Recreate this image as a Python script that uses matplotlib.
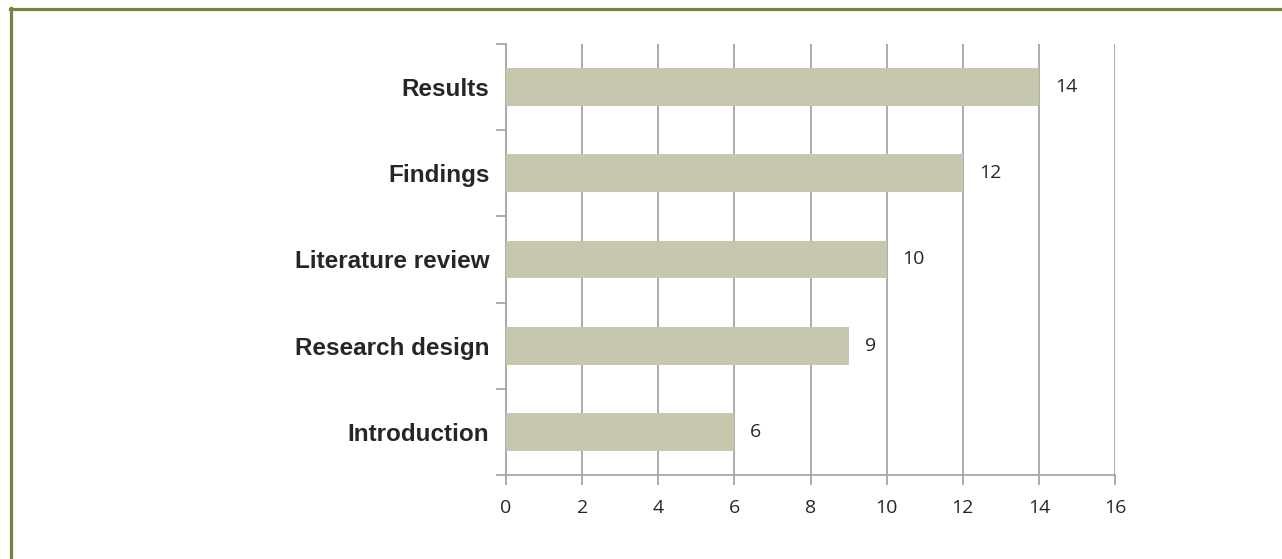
import matplotlib.pyplot as plt
from matplotlib.lines import Line2D
import numpy as np

categories = ['Introduction', 'Research design', 'Literature review', 'Findings', 'Results']
values = [6, 9, 10, 12, 14]
x_ticks = [0, 2, 4, 6, 8, 10, 12, 14, 16]

bar_color = '#c6c7ad'
grid_color = '#a6a6a6'
text_color = '#262626'

W, H = 1282, 559
fig = plt.figure(figsize=(W / 100, H / 100), dpi=100)
ax = fig.add_axes([506 / W, 1 - 475 / H, (1115 - 506) / W, (475 - 44) / H])

y = np.arange(len(categories))
ax.barh(y, values, height=0.44, color=bar_color, zorder=3)

ax.set_xlim(0, 16)
ax.set_ylim(-0.5, len(categories) - 0.5)
ax.set_xticks(x_ticks)
ax.set_xticklabels([str(t) for t in x_ticks], fontsize=14, family='Open Sans', color=text_color)
ax.grid(axis='x', color=grid_color, linewidth=1.3, zorder=0)

# category labels without tick marks; boundary ticks as minor ticks
ax.set_yticks(y)
ax.set_yticklabels(categories, fontsize=17.5, fontweight='bold', family='Liberation Sans', color=text_color)
ax.tick_params(axis='y', which='major', length=0, pad=12)
ax.set_yticks(np.arange(-0.5, len(categories), 1), minor=True)
ax.tick_params(axis='y', which='minor', length=7, width=1.3, color=grid_color)
ax.tick_params(axis='x', length=7, width=1.3, color=grid_color, pad=10)

for s in ['top', 'right']:
    ax.spines[s].set_visible(False)
for s in ['left', 'bottom']:
    ax.spines[s].set_color(grid_color)
    ax.spines[s].set_linewidth(1.3)

for yi, v in zip(y, values):
    ax.annotate(str(v), (v, yi), xytext=(11.5, 0), textcoords='offset points',
                va='center', ha='left', fontsize=14, family='Open Sans', color=text_color)

# olive frame (top and left edges visible)
fig.add_artist(Line2D([9.5 / W, 1], [1 - 8.5 / H, 1 - 8.5 / H], transform=fig.transFigure,
                      color='#7f803c', linewidth=2.3))
fig.add_artist(Line2D([10.5 / W, 10.5 / W], [0, 1 - 7.5 / H], transform=fig.transFigure,
                      color='#7f803c', linewidth=2.3))

fig.savefig('out.png', dpi=100)
